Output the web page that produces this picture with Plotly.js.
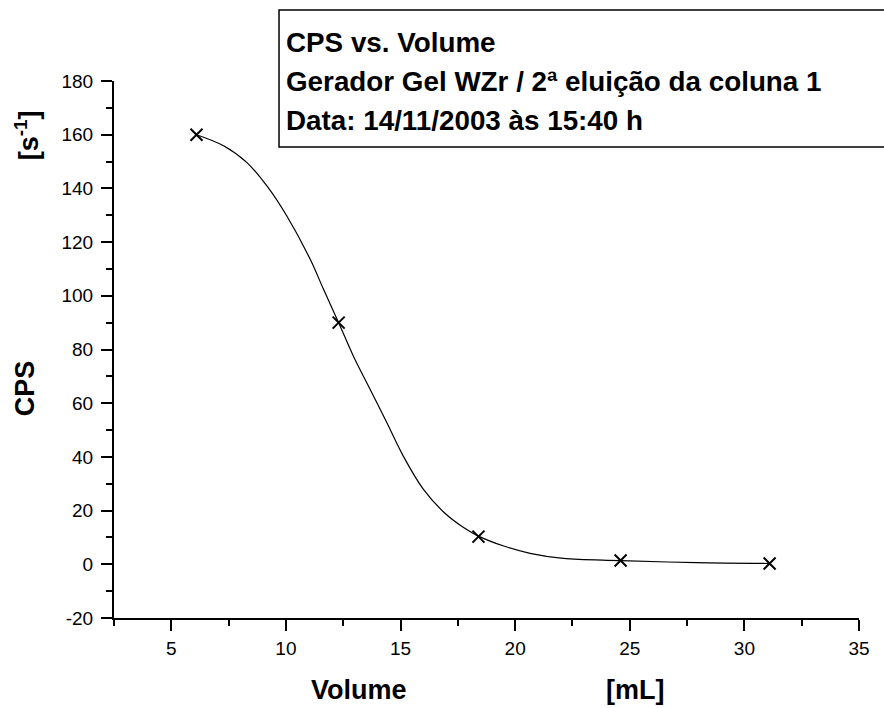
<!DOCTYPE html>
<html>
<head>
<meta charset="utf-8">
<script src="https://cdn.plot.ly/plotly-3.0.1.min.js"></script>
<style>html,body{margin:0;padding:0;background:#fff;}#chart{width:884px;height:708px;}</style>
</head>
<body>
<div id="chart"></div>
<script>
// Measured points (Volume [mL], CPS [s^-1])
const volume = [6.1, 12.3, 18.4, 24.6, 31.1];
const cps = [160, 90, 10.3, 1.4, 0.3];

// Fitted curve
const fitVolume = [6.1, 7.3, 8.3, 9.17, 10.04, 11.06, 11.64, 12.3, 12.94, 13.67, 14.4, 15.12, 16.0, 16.9, 17.75, 18.4, 19.5, 20.65, 22.1, 24.6, 27.9, 31.1];
const fitCps = [160, 155.8, 149.6, 140.9, 129.7, 113.6, 102.4, 90, 77.6, 65.2, 52.8, 40.3, 27.9, 19.3, 13.7, 10.5, 6.8, 4.1, 2.2, 1.4, 0.6, 0.3];

const xTicks = [5, 10, 15, 20, 25, 30, 35];
const yTicks = [-20, 0, 20, 40, 60, 80, 100, 120, 140, 160, 180];

const boxLines = ["CPS vs. Volume", "Gerador Gel WZr / 2ª eluição da coluna 1", "Data: 14/11/2003 às 15:40 h"];

const FONT = "Liberation Sans, Arial, sans-serif";

const traces = [
  {x: fitVolume, y: fitCps, mode: "lines", line: {color: "#000", width: 1.2, shape: "spline", smoothing: 1}, hoverinfo: "skip", showlegend: false},
  {x: volume, y: cps, mode: "markers", marker: {symbol: "x-thin-open", size: 12, color: "#000", line: {color: "#000", width: 2}}, showlegend: false}
];

const boxY = [1.0708, 1.0, 0.927];
const annotations = boxLines.map((t, i) => ({
  text: "<b>" + t + "</b>", xref: "paper", yref: "paper", x: 0.2282, y: boxY[i],
  xanchor: "left", yanchor: "middle", showarrow: false, font: {family: FONT, size: 27.8, color: "#000"}
}));
annotations.push(
  {text: "<b>CPS</b>", xref: "paper", yref: "paper", x: -0.1195, y: 0.428, textangle: -90, showarrow: false, xanchor: "center", yanchor: "middle", font: {family: FONT, size: 27, color: "#000"}},
  {text: "<b>[s<sup>-1</sup>]</b>", xref: "paper", yref: "paper", x: -0.1168, y: 0.899, textangle: -90, showarrow: false, xanchor: "center", yanchor: "middle", font: {family: FONT, size: 27, color: "#000"}},
  {text: "<b>Volume</b>", xref: "paper", yref: "paper", x: 0.3289, y: -0.134, showarrow: false, xanchor: "center", yanchor: "middle", font: {family: FONT, size: 27, color: "#000"}},
  {text: "<b>[mL]</b>", xref: "paper", yref: "paper", x: 0.6993, y: -0.134, showarrow: false, xanchor: "center", yanchor: "middle", font: {family: FONT, size: 27, color: "#000"}}
);

const layout = {
  width: 884, height: 708,
  margin: {l: 114, r: 25, t: 81, b: 90},
  paper_bgcolor: "#fff", plot_bgcolor: "#fff",
  font: {family: FONT, color: "#000"},
  xaxis: {
    range: [2.5, 35], tickvals: xTicks, ticktext: xTicks.map(String),
    showgrid: false, zeroline: false, showline: true, linecolor: "#000", linewidth: 2,
    ticks: "outside", ticklen: 11, tickwidth: 2, tickcolor: "#000", ticklabelstandoff: 1,
    tickfont: {family: FONT, size: 19, color: "#000"},
    minor: {dtick: 2.5, tick0: 2.5, ticks: "outside", ticklen: 6, tickwidth: 2, tickcolor: "#000", showgrid: false}
  },
  yaxis: {
    range: [-20, 180], tickvals: yTicks, ticktext: yTicks.map(String),
    showgrid: false, zeroline: false, showline: true, linecolor: "#000", linewidth: 2,
    ticks: "outside", ticklen: 11, tickwidth: 2, tickcolor: "#000", ticklabelstandoff: 4,
    tickfont: {family: FONT, size: 19, color: "#000"},
    minor: {dtick: 10, tick0: 0, ticks: "outside", ticklen: 6, tickwidth: 2, tickcolor: "#000", showgrid: false}
  },
  shapes: [
    {type: "rect", xref: "paper", yref: "paper", x0: 0.2215, x1: 1.05, y0: 0.877, y1: 1.132, line: {color: "#000", width: 1.5}, fillcolor: "rgba(0,0,0,0)"}
  ],
  annotations: annotations,
  showlegend: false
};

Plotly.newPlot("chart", traces, layout, {displayModeBar: false, staticPlot: true});
</script>
</body>
</html>
